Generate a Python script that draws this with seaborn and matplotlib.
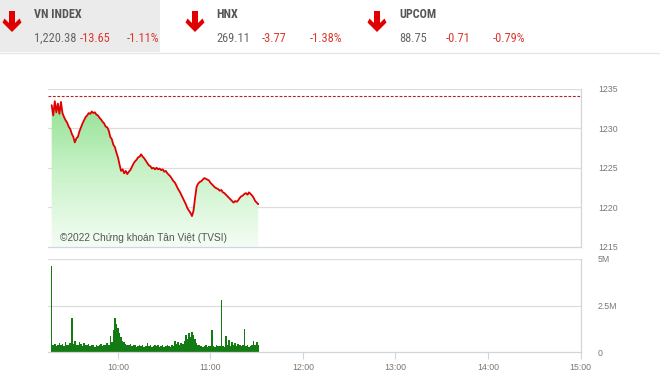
import numpy as np
import pandas as pd
import matplotlib
matplotlib.use("Agg")
import matplotlib.pyplot as plt
from matplotlib.patches import Polygon, Rectangle
from matplotlib import font_manager
import seaborn as sns

# ---------------- data ----------------
index_names = ["VN INDEX", "HNX", "UPCOM"]
index_values = ["1,220.38", "269.11", "88.75"]
index_changes = ["-13.65", "-3.77", "-0.71"]
index_pcts = ["-1.11%", "-1.38%", "-0.79%"]

ref_level = 1234.03
price_start_min = 17  # minutes after 9:00
price = [
    1232.9, 1231.6, 1233.4, 1232.0, 1233.1, 1231.8, 1233.3, 1231.9, 1231.4, 1231.0,
    1230.7, 1230.2, 1229.9, 1229.3, 1228.9, 1228.2, 1228.7, 1228.9, 1229.6, 1230.1,
    1230.6, 1231.0, 1231.4, 1231.6, 1231.9, 1231.8, 1232.1, 1231.9, 1232.0, 1231.7,
    1231.6, 1231.3, 1231.1, 1230.8, 1230.6, 1230.2, 1230.1, 1229.7, 1228.9, 1228.6,
    1227.9, 1227.6, 1226.9, 1226.3, 1225.4, 1224.6, 1224.8, 1224.3, 1224.6, 1224.2,
    1224.5, 1224.7, 1225.1, 1225.5, 1225.8, 1226.0, 1226.3, 1226.4, 1226.7, 1226.4,
    1226.2, 1225.9, 1225.6, 1225.3, 1225.2, 1224.9, 1225.0, 1224.8, 1225.0, 1224.8,
    1224.9, 1224.7, 1224.8, 1224.5, 1224.6, 1224.3, 1224.1, 1223.9, 1223.6, 1223.3,
    1223.1, 1222.7, 1222.3, 1222.0, 1221.6, 1221.2, 1220.8, 1220.4, 1219.9, 1219.6,
    1219.3, 1218.9, 1219.6, 1221.2, 1222.6, 1223.0, 1223.2, 1223.3, 1223.5, 1223.7,
    1223.6, 1223.5, 1223.4, 1223.1, 1222.9, 1222.7, 1222.5, 1222.4, 1222.3, 1222.1,
    1222.2, 1221.9, 1221.8, 1221.6, 1221.4, 1221.2, 1221.0, 1220.8, 1220.6, 1220.8,
    1220.7, 1220.9, 1221.2, 1221.4, 1221.5, 1221.7, 1221.8, 1221.6, 1221.9, 1221.7,
    1221.5, 1221.2, 1220.8, 1220.6, 1220.4,
]
# volume in millions of shares, one value per minute from the same start
volume = [
    4.60, 0.35, 0.45, 0.30, 0.40, 0.50, 0.35, 0.45, 0.30, 0.55,
    0.40, 0.35, 0.50, 1.85, 0.45, 0.60, 0.40, 0.35, 0.55, 0.45,
    0.30, 0.50, 0.40, 0.35, 0.45, 0.30, 0.40, 0.35, 0.25, 0.40,
    0.30, 0.35, 0.45, 0.30, 0.40, 0.35, 0.50, 0.40, 0.85, 0.55,
    1.20, 1.85, 1.50, 1.30, 1.00, 0.80, 0.60, 0.55, 0.45, 0.40,
    0.35, 0.45, 0.30, 0.40, 0.35, 0.25, 0.30, 0.40, 0.30, 0.35,
    0.25, 0.30, 0.50, 0.30, 0.35, 0.25, 0.30, 0.40, 0.30, 0.35,
    0.25, 0.30, 0.35, 0.25, 0.30, 0.40, 0.30, 0.25, 0.35, 0.30,
    0.60, 0.45, 0.55, 0.40, 0.50, 0.45, 0.60, 0.90, 0.70, 1.00,
    0.80, 1.10, 0.90, 0.70, 0.50, 0.40, 0.35, 0.30, 0.25, 0.30,
    0.35, 0.25, 0.30, 0.30, 1.20, 0.30, 0.25, 0.35, 0.30, 0.30,
    2.80, 0.30, 0.25, 0.85, 0.35, 0.65, 0.30, 0.55, 0.40, 0.50,
    0.30, 0.45, 0.35, 0.30, 0.40, 1.25, 0.30, 0.35, 0.25, 0.30,
    0.35, 0.60, 0.40, 0.55, 0.35,
]
price_yticks = [1215, 1220, 1225, 1230, 1235]
vol_yticks = [0, 2.5, 5]
vol_ylabels = ["0", "2.5M", "5M"]
time_ticks = [60, 120, 180, 240, 300, 360]
time_labels = ["10:00", "11:00", "12:00", "13:00", "14:00", "15:00"]

minutes = list(range(price_start_min, price_start_min + len(price)))
df = pd.DataFrame({"minute": minutes, "price": price, "volume": volume})

# ---------------- style ----------------
sns.set_theme(style="white")
available = {f.name for f in font_manager.fontManager.ttflist}
base_font = "Liberation Sans" if "Liberation Sans" in available else "DejaVu Sans"
plt.rcParams["font.family"] = [base_font, "DejaVu Sans"]

narrow = None
for cand in ["Roboto Condensed", "Liberation Sans Narrow", "Open Sans Condensed"]:
    if cand in available:
        narrow = cand
        break
if narrow is None:
    narrow = "Roboto" if "Roboto" in available else base_font

W, H = 660, 379
fig = plt.figure(figsize=(W / 100, H / 100), dpi=100)

def fx(px):
    return px / W

def fy(py):
    return 1 - py / H

XMIN, XMAX = 14.6, 360
grid_c = "#dddddd"
spine_c = "#cfd6dc"
tick_c = "#777777"

# ---------------- price panel ----------------
L, R = 48, 580.5
ax = fig.add_axes([fx(L), fy(247), fx(R - L), fy(88.5) - fy(247)])
ax.set_xlim(XMIN, XMAX)
ax.set_ylim(1215, 1235)

poly = ax.fill_between(df["minute"], df["price"], 1215, color="none", lw=0)
grad = np.linspace(0, 1, 256).reshape(-1, 1)
cmap = matplotlib.colors.LinearSegmentedColormap.from_list(
    "g", ["#f4fdf4", "#c8f2c8", "#8fe08f"])
img = ax.imshow(grad, cmap=cmap, aspect="auto", origin="lower",
                extent=[XMIN, XMAX, 1215, 1234], zorder=1)
path = poly.get_paths()[0]
img.set_clip_path(path, transform=ax.transData)

for v in price_yticks[1:]:
    ax.axhline(v, color=grid_c, lw=0.9, zorder=0.5)
ax.axhline(ref_level, color="#b22222", lw=0.8, ls=(0, (2.5, 1.5)), zorder=2)

sns.lineplot(data=df, x="minute", y="price", ax=ax, color="#e00000",
             lw=1.3, zorder=3)

ax.yaxis.tick_right()
ax.set_yticks(price_yticks)
ax.set_yticklabels([str(t) for t in price_yticks])
ax.tick_params(axis="y", length=0, pad=12.5, labelsize=6.3, labelcolor=tick_c)
ax.set_xticks([])
ax.set_xlabel("")
ax.set_ylabel("")
for s in ["top", "left"]:
    ax.spines[s].set_visible(False)
for s in ["right", "bottom"]:
    ax.spines[s].set_color(spine_c)
    ax.spines[s].set_linewidth(0.9)
ax.text(fx(60 - L) / fx(R - L), (247 - 238) / (247 - 88.5),
        "©2022 Chứng khoán Tân Việt (TVSI)", transform=ax.transAxes,
        fontsize=7.3, color="#555555", va="center", ha="left", zorder=4)

# ---------------- volume panel ----------------
axv = fig.add_axes([fx(L), fy(352), fx(R - L), fy(259) - fy(352)])
sns.histplot(data=df, x="minute", weights="volume", discrete=True, ax=axv,
             color="#147a14", alpha=1, linewidth=0, edgecolor="none", shrink=1.0)
axv.set_xlim(XMIN, XMAX)
axv.set_ylim(0, 5)
for v in vol_yticks[1:]:
    axv.axhline(v, color=grid_c, lw=0.9, zorder=0)
axv.yaxis.tick_right()
axv.set_yticks(vol_yticks)
axv.set_yticklabels(vol_ylabels)
axv.tick_params(axis="y", length=0, pad=12.5, labelsize=6.3, labelcolor=tick_c)
axv.set_xticks(time_ticks)
axv.set_xticklabels(time_labels)
axv.tick_params(axis="x", length=5, width=0.8, color=spine_c, pad=3,
                labelsize=6.3, labelcolor=tick_c, bottom=True)
axv.set_xlabel("")
axv.set_ylabel("")
for s in ["top", "left"]:
    axv.spines[s].set_visible(False)
for s in ["right", "bottom"]:
    axv.spines[s].set_color(spine_c)
    axv.spines[s].set_linewidth(0.9)

# ---------------- header ----------------
hd = fig.add_axes([0, 0, 1, 1], zorder=-1)
hd.set_xlim(0, W)
hd.set_ylim(H, 0)
hd.axis("off")
hd.add_patch(Rectangle((0, 0), 160, 52, color="#ebebeb", lw=0))
hd.plot([0, W], [53, 53], color="#e6e6e6", lw=1)

renderer = fig.canvas.get_renderer()

def fitted_size(text, target_px, base, weight="normal"):
    t = hd.text(0, 0, text, family=[narrow, "DejaVu Sans"], fontsize=base,
                fontweight=weight)
    w = t.get_window_extent(renderer).width
    t.remove()
    return min(base, base * target_px / w) if w > 0 else base

name_size = fitted_size("VN INDEX", 47, 10, "bold")
num_size = fitted_size("1,220.38", 42, 10)

arrow_x = [12, 195, 377]
name_x = [34, 216, 399]
chg_x = [80, 262, 446]
pct_x = [127, 310, 493]
red_txt = "#d9392f"
for i in range(3):
    cx = arrow_x[i]
    pts = [(cx - 3, 11), (cx + 3, 11), (cx + 3, 23), (cx + 7.5, 18.5),
           (cx + 9.5, 22.5), (cx, 32), (cx - 9.5, 22.5), (cx - 7.5, 18.5),
           (cx - 3, 23)]
    hd.add_patch(Polygon(pts, closed=True, color="#e00000", lw=0))
    kw = dict(family=[narrow, "DejaVu Sans"], va="center", ha="left")
    hd.text(name_x[i], 14, index_names[i], fontsize=name_size,
            fontweight="bold", color="#555555", **kw)
    hd.text(name_x[i], 38, index_values[i], fontsize=num_size,
            color="#666666", **kw)
    hd.text(chg_x[i], 38, index_changes[i], fontsize=num_size,
            color=red_txt, **kw)
    hd.text(pct_x[i], 38, index_pcts[i], fontsize=num_size,
            color=red_txt, **kw)

fig.savefig("out.png", dpi=100)
